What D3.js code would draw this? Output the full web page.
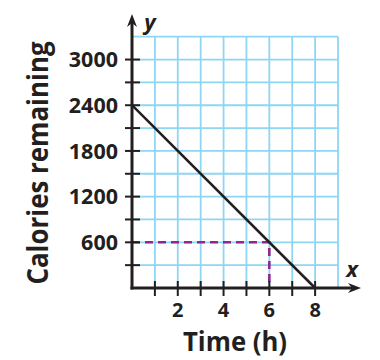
<!DOCTYPE html>
<html><head><meta charset="utf-8">
<script src="https://cdn.jsdelivr.net/npm/d3@7"></script>
<style>body{margin:0;background:#fff}svg{display:block}text{font-family:"Open Sans",sans-serif;font-weight:700;fill:#231f20}</style>
</head><body><svg id="c" width="380" height="360"></svg>
<script>
const xGrid = [0,1,2,3,4,5,6,7,8,9];
const yGrid = [0,300,600,900,1200,1500,1800,2100,2400,2700,3000,3300];
const xTicks = [1,2,3,4,5,6,7,8];
const xTickLabels = [2,4,6,8];
const yTicks = [300,600,900,1200,1500,1800,2100,2400,2700,3000];
const yTickLabels = [600,1200,1800,2400,3000];
const lineTime = [0,8];
const lineCalories = [2400,0];
const markTime = 6, markCalories = 600;

const svg = d3.select("#c");
const x = d3.scaleLinear().domain([0,9]).range([132,338]);
const y = d3.scaleLinear().domain([0,3300]).range([288,36.7]);
const grid = "#8dd6f4";

const g = svg.append("g");
g.selectAll(".vg").data(xGrid.slice(1)).join("line")
 .attr("x1",d=>x(d)).attr("x2",d=>x(d)).attr("y1",y(0)).attr("y2",y(3300))
 .attr("stroke",grid).attr("stroke-width",1.8);
g.selectAll(".hg").data(yGrid.slice(1)).join("line")
 .attr("y1",d=>y(d)).attr("y2",d=>y(d)).attr("x1",x(0)).attr("x2",x(9))
 .attr("stroke",grid).attr("stroke-width",1.8);

const purple = "#93278f";
svg.append("path")
 .attr("d",`M${x(0)},${y(markCalories)}H${x(markTime)}V${y(0)}`)
 .attr("fill","none").attr("stroke",purple).attr("stroke-width",2.6)
 .attr("stroke-dasharray","8,5");

svg.append("line").attr("x1",x(lineTime[0])).attr("y1",y(lineCalories[0]))
 .attr("x2",x(lineTime[1])).attr("y2",y(lineCalories[1]))
 .attr("stroke","#231f20").attr("stroke-width",2.5);

const ax = "#231f20";
svg.append("line").attr("x1",x(0)).attr("x2",x(0)).attr("y1",y(0)+1.5).attr("y2",22)
 .attr("stroke",ax).attr("stroke-width",3);
svg.append("line").attr("x1",x(0)-1.5).attr("x2",353).attr("y1",y(0)).attr("y2",y(0))
 .attr("stroke",ax).attr("stroke-width",3);
svg.append("path").attr("d",`M${x(0)},14 L${x(0)-5},27 L${x(0)},23 L${x(0)+5},27Z`).attr("fill",ax);
svg.append("path").attr("d",`M361,${y(0)} L348,${y(0)-5} L352,${y(0)} L348,${y(0)+5}Z`).attr("fill",ax);

svg.selectAll(".yt").data(yTicks).join("line")
 .attr("x1",x(0)-7).attr("x2",x(0)+8).attr("y1",d=>y(d)).attr("y2",d=>y(d))
 .attr("stroke",ax).attr("stroke-width",2);
svg.selectAll(".xt").data(xTicks).join("line")
 .attr("y1",y(0)-7).attr("y2",y(0)+8).attr("x1",d=>x(d)).attr("x2",d=>x(d))
 .attr("stroke",ax).attr("stroke-width",2);

svg.selectAll(".yl").data(yTickLabels).join("text")
 .attr("x",118).attr("y",d=>y(d)).attr("dy","0.36em").attr("text-anchor","end")
 .attr("font-size",21.5).text(d=>d);
svg.selectAll(".xl").data(xTickLabels).join("text")
 .attr("x",d=>x(d)).attr("y",317).attr("text-anchor","middle")
 .attr("font-size",20).text(d=>d);

svg.append("text").attr("x",150).attr("y",30).attr("text-anchor","middle")
 .attr("font-size",22).attr("font-style","italic").text("y");
svg.append("text").attr("x",352).attr("y",277).attr("text-anchor","middle")
 .attr("font-size",22).attr("font-style","italic").text("x");

svg.append("text").attr("x",235).attr("y",351).attr("text-anchor","middle")
 .attr("font-size",26).attr("textLength",104).attr("lengthAdjust","spacingAndGlyphs").text("Time (h)");
svg.append("text").attr("transform","translate(48,163) rotate(-90)").attr("text-anchor","middle")
 .attr("font-size",29).attr("textLength",243).attr("lengthAdjust","spacingAndGlyphs").text("Calories remaining");
</script></body></html>
